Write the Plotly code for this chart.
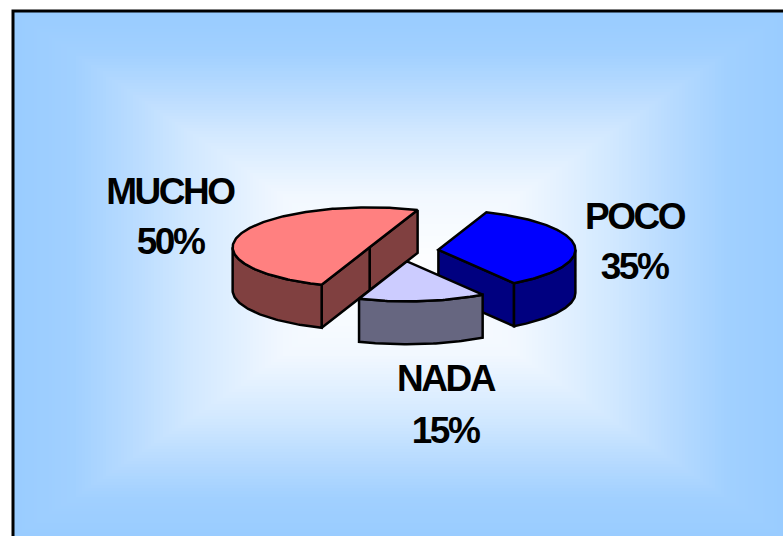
"""Exploded 3D-look pie chart on a blue rectangular gradient panel."""
import numpy as np
import plotly.graph_objects as go

# Data, in drawing order going counter-clockwise from the Poco slice
labels = ["POCO", "MUCHO", "NADA"]
values = [35, 50, 15]
top_colors = ["#0000FF", "#FF8080", "#CCCCFF"]
side_colors = ["#000080", "#804040", "#666680"]
label_x = [634, 170, 445]
name_y = [216, 191, 378]
pct_y = [266, 241, 430]

# Pie projection, in pixels
WIDTH, HEIGHT = 783, 536
CX, CY = 403, 251
RX, RY = 137, 40
DEPTH = 43
EXPLODE = 0.26
START_ANGLE = -56.5

# Panel gradient
PANEL_LEFT, PANEL_TOP = 14, 12
GRAD_CX, GRAD_CY = 400, 275
GRAD_HALF_W, GRAD_HALF_H = 385, 262
GRAD_STOPS = [
    [0, "#FFFFFF"],
    [0.3, "#F2F8FF"],
    [0.55, "#D1E8FF"],
    [0.7, "#B8DBFF"],
    [0.85, "#A1D0FF"],
    [1, "#99CCFF"],
]


def arc_points(cx, cy, t0, t1):
    ts = np.radians(np.linspace(t0, t1, max(int(abs(t1 - t0)), 2)))
    return cx + RX * np.cos(ts), cy - RY * np.sin(ts)


def add_poly(fig, xs, ys, color):
    fig.add_trace(
        go.Scatter(
            x=np.append(xs, xs[0]),
            y=np.append(ys, ys[0]),
            mode="lines",
            fill="toself",
            fillcolor=color,
            line=dict(color="black", width=2.5),
            hoverinfo="skip",
            showlegend=False,
        )
    )


def add_cut_face(fig, cx, cy, angle, color):
    ex, ey = arc_points(cx, cy, angle, angle + 1)
    xs = np.array([cx, ex[0], ex[0], cx])
    ys = np.array([cy, ey[0], ey[0] + DEPTH, cy + DEPTH])
    add_poly(fig, xs, ys, color)


def add_slice(fig, t0, t1, top_color, side_color):
    mid = np.radians((t0 + t1) / 2)
    cx = CX + EXPLODE * RX * np.cos(mid)
    cy = CY - EXPLODE * RY * np.sin(mid)

    # Cut faces, only where they turn towards the viewer
    if np.sin(np.radians(t0 - 90)) < 0:
        add_cut_face(fig, cx, cy, t0, side_color)
    if np.sin(np.radians(t1 + 90)) < 0:
        add_cut_face(fig, cx, cy, t1, side_color)

    # Outer wall, the front half of the rim
    for lo in (-180, 180):
        a0, a1 = max(t0, lo), min(t1, lo + 180)
        if a1 > a0:
            wx, wy = arc_points(cx, cy, a0, a1)
            add_poly(
                fig,
                np.concatenate([wx, wx[::-1]]),
                np.concatenate([wy, wy[::-1] + DEPTH]),
                side_color,
            )

    ax, ay = arc_points(cx, cy, t0, t1)
    add_poly(fig, np.append(ax, cx), np.append(ay, cy), top_color)


fig = go.Figure()

# Background: rectangular gradient, white in the middle
gx = np.arange(PANEL_LEFT, WIDTH + 3, 3)
gy = np.arange(PANEL_TOP, HEIGHT + 3, 3)
gz = np.maximum(
    np.abs(gx - GRAD_CX)[None, :] / GRAD_HALF_W,
    np.abs(gy - GRAD_CY)[:, None] / GRAD_HALF_H,
)
fig.add_trace(
    go.Heatmap(
        x=gx,
        y=gy,
        z=np.clip(gz, 0, 1),
        zmin=0,
        zmax=1,
        colorscale=GRAD_STOPS,
        showscale=False,
        hoverinfo="skip",
    )
)

# Poco comes first so the other slices paint over it
angle = START_ANGLE
for value, top_color, side_color in zip(values, top_colors, side_colors):
    sweep = value / sum(values) * 360
    add_slice(fig, angle, angle + sweep, top_color, side_color)
    angle += sweep

for label, value, x, y0, y1 in zip(labels, values, label_x, name_y, pct_y):
    for text, y in ((label, y0), (f"{value}%", y1)):
        fig.add_annotation(
            x=x,
            y=y,
            text=f"<b>{text}</b>",
            showarrow=False,
            font=dict(family="Liberation Sans", size=37, color="black"),
        )

fig.update_layout(
    width=WIDTH,
    height=HEIGHT,
    margin=dict(l=0, r=0, t=0, b=0),
    paper_bgcolor="white",
    plot_bgcolor="white",
    xaxis=dict(range=[0, WIDTH], visible=False),
    yaxis=dict(range=[HEIGHT, 0], visible=False),
    shapes=[
        dict(
            type="rect",
            x0=PANEL_LEFT - 1,
            y0=PANEL_TOP - 1,
            x1=WIDTH + 20,
            y1=HEIGHT + 20,
            line=dict(color="black", width=3),
        )
    ],
)

# The labels in the original are set tight, plotly has no letter spacing option
post_script = """
document.body.style.margin = '0';
document.body.style.overflow = 'hidden';
document.querySelectorAll('.annotation-text').forEach(function (t) {
    t.style.letterSpacing = '-2.5px';
});
"""

fig.write_html(
    "out.html",
    config={"displayModeBar": False},
    post_script=post_script,
)
